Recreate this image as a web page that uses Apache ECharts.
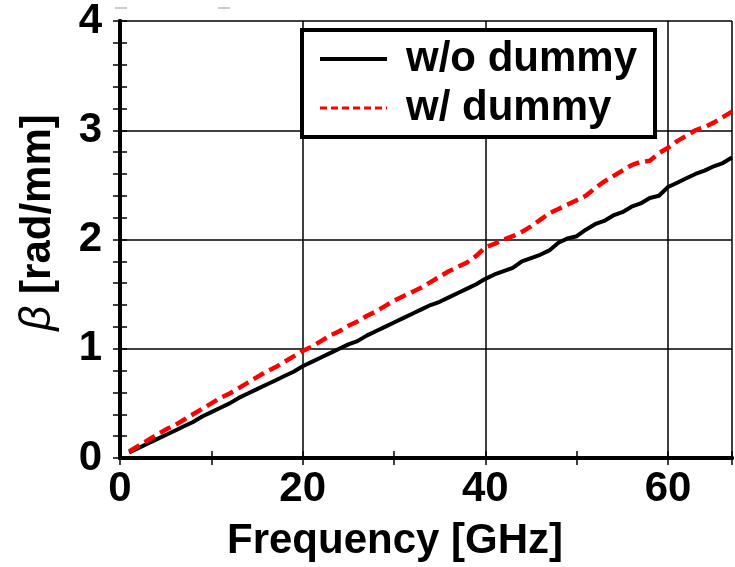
<!DOCTYPE html>
<html>
<head>
<meta charset="utf-8">
<script src="https://cdn.jsdelivr.net/npm/echarts@6/dist/echarts.min.js"></script>
<style>
  html, body { margin: 0; padding: 0; background: #fff; }
  #chart { width: 735px; height: 567px; }
</style>
</head>
<body>
<div id="chart"></div>
<script>
// Frequency sample points [GHz]
const freq = [1, 2, 3, 4, 5, 6, 7, 8, 9, 10, 11, 12, 13, 14, 15, 16, 17, 18, 19, 20,
  21, 22, 23, 24, 25, 26, 27, 28, 29, 30, 31, 32, 33, 34, 35, 36, 37, 38, 39, 40,
  41, 42, 43, 44, 45, 46, 47, 48, 49, 50, 51, 52, 53, 54, 55, 56, 57, 58, 59, 60,
  61, 62, 63, 64, 65, 66, 67];

// Phase constant without dummy [rad/mm]
const betaWithout = [0.05, 0.09, 0.13, 0.17, 0.21, 0.25, 0.29, 0.33, 0.38, 0.42,
  0.46, 0.50, 0.55, 0.59, 0.63, 0.67, 0.71, 0.75, 0.79, 0.84,
  0.88, 0.92, 0.96, 1.00, 1.04, 1.07, 1.12, 1.16, 1.20, 1.24,
  1.28, 1.32, 1.36, 1.40, 1.43, 1.47, 1.51, 1.55, 1.59, 1.64,
  1.68, 1.71, 1.74, 1.80, 1.83, 1.86, 1.90, 1.97, 2.01, 2.03,
  2.09, 2.14, 2.17, 2.22, 2.25, 2.30, 2.33, 2.38, 2.40, 2.48,
  2.52, 2.56, 2.60, 2.63, 2.67, 2.70, 2.75];

// Phase constant with dummy [rad/mm]
const betaWith = [0.06, 0.11, 0.16, 0.21, 0.26, 0.30, 0.35, 0.40, 0.45, 0.50,
  0.55, 0.59, 0.64, 0.69, 0.74, 0.79, 0.83, 0.88, 0.93, 0.98,
  1.02, 1.07, 1.12, 1.16, 1.21, 1.25, 1.30, 1.34, 1.39, 1.44,
  1.48, 1.52, 1.56, 1.61, 1.66, 1.71, 1.75, 1.79, 1.85, 1.93,
  1.96, 2.00, 2.03, 2.07, 2.12, 2.18, 2.24, 2.28, 2.32, 2.36,
  2.40, 2.47, 2.53, 2.58, 2.63, 2.68, 2.71, 2.72, 2.79, 2.84,
  2.90, 2.95, 3.00, 3.03, 3.07, 3.12, 3.17];

const seriesNames = ['w/o dummy', 'w/ dummy'];
const xLabel = 'Frequency [GHz]';

const X_MIN = 0, X_MAX = 67, Y_MIN = 0, Y_MAX = 4;
const FONT = 'Liberation Sans, Arial, sans-serif';

const pairs = (ys) => freq.map((f, i) => [f, ys[i]]);

// Axes that only draw the inward ticks (and the top/right frame lines)
const tickOnlyX = (position) => ({
  type: 'value', position, min: X_MIN, max: X_MAX, interval: 10,
  axisLine: { show: position === 'top', lineStyle: { color: '#000', width: 4 } },
  axisTick: { show: true, inside: true, length: 7, lineStyle: { color: '#000', width: 1.5 } },
  axisLabel: { show: false }, splitLine: { show: false }
});
const tickOnlyY = (position) => ({
  type: 'value', position, min: Y_MIN, max: Y_MAX, interval: 0.2,
  axisLine: { show: position === 'right', lineStyle: { color: '#000', width: 4 } },
  axisTick: { show: true, inside: true, length: 7, lineStyle: { color: '#000', width: 1.5 } },
  axisLabel: { show: false }, splitLine: { show: false }
});

const chart = echarts.init(document.getElementById('chart'), null, { renderer: 'canvas' });
chart.setOption({
  animation: false,
  backgroundColor: '#fff',
  textStyle: { fontFamily: FONT },
  grid: { left: 120, right: 2, top: 21, bottom: 108 },
  legend: {
    orient: 'vertical',
    left: 302, top: 30,
    padding: [6, 18, 6, 16],
    itemGap: 3,
    itemWidth: 67, itemHeight: 14,
    borderColor: '#000', borderWidth: 4,
    backgroundColor: '#fff',
    itemStyle: { opacity: 0, borderWidth: 0 },
    data: [
      { name: seriesNames[0], lineStyle: { width: 4 } },
      { name: seriesNames[1], lineStyle: { width: 3, type: [7, 4] } }
    ],
    textStyle: { fontFamily: FONT, fontWeight: 'bold', fontSize: 42, color: '#000', lineHeight: 46, padding: [0, 0, 0, 14] }
  },
  xAxis: [
    {
      type: 'value', position: 'bottom', min: X_MIN, max: X_MAX, interval: 20,
      axisLine: { show: true, lineStyle: { color: '#000', width: 4 } },
      axisTick: { show: false },
      axisLabel: {
        show: true, margin: 10, color: '#000', fontFamily: FONT, fontWeight: 'bold', fontSize: 42,
        formatter: (v) => (v % 20 === 0 ? String(v) : '')
      },
      splitLine: { show: true, lineStyle: { color: '#000', width: 1.5 } },
      name: xLabel, nameLocation: 'middle', nameGap: 62,
      nameTextStyle: { color: '#000', fontFamily: FONT, fontWeight: 'bold', fontSize: 42, padding: [0, 62, 0, 0] }
    },
    tickOnlyX('bottom'),
    tickOnlyX('top')
  ],
  yAxis: [
    {
      type: 'value', position: 'left', min: Y_MIN, max: Y_MAX, interval: 1,
      axisLine: { show: true, lineStyle: { color: '#000', width: 4 } },
      axisTick: { show: false },
      axisLabel: { show: true, margin: 18, color: '#000', fontFamily: FONT, fontWeight: 'bold', fontSize: 42 },
      splitLine: { show: true, lineStyle: { color: '#000', width: 1.5 } },
      name: '{b|β} [rad/mm]', nameLocation: 'middle', nameGap: 60, nameRotate: 90,
      nameTextStyle: {
        color: '#000', fontFamily: FONT, fontWeight: 'bold', fontSize: 42, padding: [0, 0, 0, 34],
        rich: { b: { fontFamily: FONT, fontStyle: 'italic', fontWeight: 'normal', fontSize: 44, color: '#000' } }
      }
    },
    tickOnlyY('left'),
    tickOnlyY('right')
  ],
  series: [
    {
      name: seriesNames[0], type: 'line', xAxisIndex: 0, yAxisIndex: 0,
      data: pairs(betaWithout), symbol: 'none', showSymbol: false, smooth: false,
      lineStyle: { color: '#000', width: 4 }, itemStyle: { color: '#000' }, z: 3
    },
    {
      name: seriesNames[1], type: 'line', xAxisIndex: 0, yAxisIndex: 0,
      data: pairs(betaWith), symbol: 'none', showSymbol: false, smooth: false,
      lineStyle: { color: '#ff0000', width: 4.5, type: [12, 6] }, itemStyle: { color: '#ff0000' }, z: 4
    }
  ],
  graphic: [
    { type: 'line', shape: { x1: 115, y1: 8, x2: 127, y2: 8 }, style: { stroke: '#999', lineWidth: 1 } },
    { type: 'line', shape: { x1: 218, y1: 8, x2: 230, y2: 8 }, style: { stroke: '#999', lineWidth: 1 } }
  ]
});
</script>
</body>
</html>
